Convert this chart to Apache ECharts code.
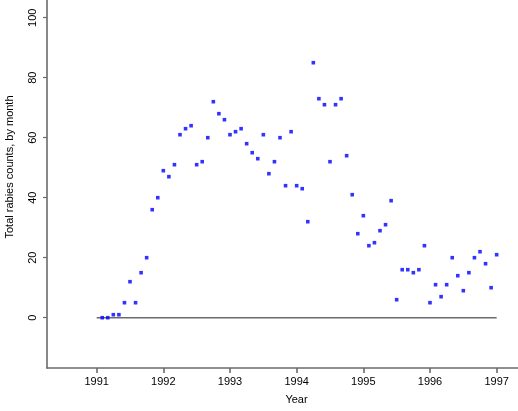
<!DOCTYPE html>
<html><head><meta charset="utf-8">
<script src="https://cdn.jsdelivr.net/npm/echarts@6/dist/echarts.min.js"></script>
<style>html,body{margin:0;padding:0;background:#fff}#c{width:518px;height:411px}</style>
</head><body><div id="c"></div>
<script>
const months = [
 '1991-02','1991-03','1991-04','1991-05','1991-06','1991-07','1991-08','1991-09','1991-10','1991-11','1991-12','1992-01',
 '1992-02','1992-03','1992-04','1992-05','1992-06','1992-07','1992-08','1992-09','1992-10','1992-11','1992-12','1993-01',
 '1993-02','1993-03','1993-04','1993-05','1993-06','1993-07','1993-08','1993-09','1993-10','1993-11','1993-12','1994-01',
 '1994-02','1994-03','1994-04','1994-05','1994-06','1994-07','1994-08','1994-09','1994-10','1994-11','1994-12','1995-01',
 '1995-02','1995-03','1995-04','1995-05','1995-06','1995-07','1995-08','1995-09','1995-10','1995-11','1995-12','1996-01',
 '1996-02','1996-03','1996-04','1996-05','1996-06','1996-07','1996-08','1996-09','1996-10','1996-11','1996-12','1997-01'
];
const counts = [
 0,0,1,1,5,12,5,15,20,36,40,49,
 47,51,61,63,64,51,52,60,72,68,66,61,
 62,63,58,55,53,61,48,52,60,44,62,44,
 43,32,85,73,71,52,71,73,54,41,28,34,
 24,25,29,31,39,6,16,16,15,16,24,5,
 11,7,11,20,14,9,15,20,22,18,10,21
];
const xTicks = [1991,1992,1993,1994,1995,1996,1997];
const yTicks = [0,20,40,60,80,100];
const baselineYears = [1991, 1997];
const baselineValue = 0;

function toYear(s){ const p = s.split('-'); return +p[0] + (+p[1]-1)/12; }
const pts = months.map((m,i)=>[toYear(m), counts[i]]);

const FONT = '"Liberation Sans", Arial, sans-serif';
const AX = '#6b6b6b';
const chart = echarts.init(document.getElementById('c'), null, {renderer:'canvas'});
chart.setOption({
  animation:false,
  backgroundColor:'#fff',
  grid:{left:47, right:0, top:0, bottom:43, containLabel:false},
  xAxis:{type:'value', min:1990.255, max:1997.32,
    axisLine:{onZero:false, lineStyle:{color:AX, width:1.6}},
    axisTick:{length:5, lineStyle:{color:AX, width:1.6}, customValues:xTicks},
    axisLabel:{customValues:xTicks, margin:8, color:'#000', fontFamily:FONT, fontSize:11, formatter:v=>String(Math.round(v))},
    splitLine:{show:false}},
  yAxis:{type:'value', min:-16.77, max:105.9,
    axisLine:{show:true, onZero:false, lineStyle:{color:AX, width:1.6}},
    axisTick:{show:true, length:4, lineStyle:{color:AX, width:1.2}, customValues:yTicks},
    axisLabel:{customValues:yTicks, rotate:90, margin:9, color:'#000', fontFamily:FONT, fontSize:11},
    splitLine:{show:false}},
  graphic:[
    {type:'text', x:296.5, y:400, style:{text:'Year', font:'11px '+FONT, fill:'#000', align:'center', verticalAlign:'middle'}},
    {type:'text', x:10, y:167, rotation:Math.PI/2, style:{text:'Total rabies counts, by month', font:'11px '+FONT, fill:'#000', align:'center', verticalAlign:'middle'}}
  ],
  series:[
    {type:'line', data:baselineYears.map(y=>[y, baselineValue]), symbol:'none', lineStyle:{color:AX, width:1.6}, silent:true, z:1},
    {type:'scatter', data:pts, symbol:'rect', symbolSize:3.6, itemStyle:{color:'#0000ff'}, z:3}
  ]
});
</script></body></html>
